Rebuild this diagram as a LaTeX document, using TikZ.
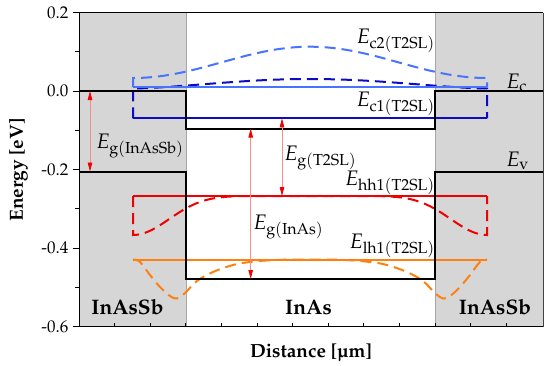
\documentclass[tikz,border=0pt]{standalone}
\usepackage[T1]{fontenc}
\usepackage{mathpazo}
\usetikzlibrary{arrows.meta}
\definecolor{lblue}{RGB}{72,115,255}
\definecolor{dblue}{RGB}{12,12,200}
\definecolor{myred}{RGB}{240,0,0}
\definecolor{myorange}{RGB}{255,128,16}
\definecolor{barcol}{RGB}{214,214,214}
\begin{document}
\begin{tikzpicture}[x=1pt,y=-1pt,
  band/.style={line width=2pt, black},
  lvl/.style={line width=2pt},
  wf/.style={line width=2pt, dash pattern=on 11pt off 6pt},
  gap/.style={line width=0.8pt, draw=myred!45,
     {Triangle[length=9pt,width=4.5pt,color=myred]}-{Triangle[length=9pt,width=4.5pt,color=myred]}},
  lab/.style={font=\fontsize{21}{24}\selectfont, inner sep=0pt},
  reg/.style={font=\fontsize{21}{24}\selectfont\bfseries, inner sep=0pt},
  ttl/.style={font=\fontsize{19}{22}\selectfont\bfseries, inner sep=0pt},
  ticklab/.style={font=\fontsize{17}{20}\selectfont, inner sep=0pt, anchor=east},
]
\useasboundingbox (0,0) rectangle (550,365);
% barrier regions
\fill[barcol] (79,12.5) rectangle (186,326.5);
\fill[barcol] (435,12.5) rectangle (543,326.5);
\draw[gray!70, line width=0.5pt] (186,12.5) -- (186,326.5);
\draw[gray!70, line width=0.5pt] (435,12.5) -- (435,326.5);
% wave functions
\draw[wf,draw=lblue] (133,87) -- (133,78) -- plot[domain=133:487,samples=90] (\x,{78-31.3*pow(abs(cos(90*(\x-310)/177)),2)}) -- (487,87);
\draw[wf,draw=dblue] (133,118.3) -- (133,88.5) -- plot[domain=133:487,samples=90] (\x,{88.5-9.5*pow(abs(cos(90*(\x-310)/177)),1.5)}) -- (487,118.3);
\draw[wf,draw=myred] (133,196) -- (133,235) -- plot[domain=133:487,samples=120] (\x,{196+39*pow(abs(sin(90*(\x-310)/177)),10)}) -- (487,196);
\draw[wf,draw=myorange] plot[smooth,tension=0.6] coordinates {(133,259.5)(140,262)(150,275)(160,287)(170,296)(177,298.5)(185,293)(197,281)(213,272)(233,265)(250,262)(275,260)(310,259.5)(345,260)(370,262)(387,265)(407,272)(423,281)(435,293)(443,298.5)(450,296)(460,287)(470,275)(480,262)(487,259.5)};
% levels
\draw[lvl,draw=lblue] (133,87) -- (487,87);
\draw[lvl,draw=dblue] (133,118.3) -- (487,118.3);
\draw[lvl,draw=myred] (133,196) -- (487,196);
\draw[lvl,draw=myorange] (133,259.5) -- (487,259.5);
% band edges
\draw[band] (79,91) -- (186,91) -- (186,128.5) -- (435,128.5) -- (435,91) -- (543,91);
\draw[band] (79,171.5) -- (186,171.5) -- (186,279) -- (435,279) -- (435,171.5) -- (543,171.5);
% gap arrows
\coordinate (a1t) at (90,91);   \coordinate (a1b) at (90,171.5);
\coordinate (a2t) at (282,118.3); \coordinate (a2b) at (282,196);
\coordinate (a3t) at (250.7,128.5); \coordinate (a3b) at (250.7,279);
\draw[gap] (a1t) -- (a1b);
\draw[gap] (a2t) -- (a2b);
\draw[gap] (a3t) -- (a3b);
% frame
\draw[line width=1pt] (79,326.5) -- (79,12.5) -- (543,12.5);
\draw[line width=1pt] (79,326.5) -- (543,326.5);
\draw[line width=1pt, black!75] (543,12.5) -- (543,326.5);
% y ticks
\foreach \v/\yy in {0.2/12.5,0.0/91,-0.2/169.5,-0.4/248,-0.6/326.5}{
  \draw[line width=0.8pt] (72.5,\yy) -- (79,\yy);
  \node[ticklab] (yl\yy) at (68.5,\yy) {\v};
}
\foreach \yy in {51.75,130.25,208.75,287.25}{
  \draw[line width=0.8pt] (75,\yy) -- (79,\yy);
}
% x ticks
\foreach \k in {1,...,12}{
  \draw[line width=0.8pt] ({79+35.6*\k},326.5) -- ({79+35.6*\k},322.5);
}
% labels
\node[lab,anchor=base east] (lc2) at (435,43.3) {$E_{\mathrm{c2(T2SL)}}$};
\node[lab,anchor=base west] (lec) at (506,88) {$E_{\mathrm{c}}$};
\node[lab,anchor=base east] (lc1) at (435,106.7) {$E_{\mathrm{c1(T2SL)}}$};
\node[lab,anchor=base west] (lev) at (506,166) {$E_{\mathrm{v}}$};
\node[lab,anchor=base west] (lgt) at (284,160) {$E_{\mathrm{g(T2SL)}}$};
\node[lab,anchor=base east] (lhh) at (435,185) {$E_{\mathrm{hh1(T2SL)}}$};
\node[lab,anchor=base east] (llh) at (435,248.3) {$E_{\mathrm{lh1(T2SL)}}$};
\node[lab,anchor=base west] (lgi) at (253,229) {$E_{\mathrm{g(InAs)}}$};
\node[lab,anchor=base west] (lgs) at (96,148.3) {$E_{\mathrm{g(InAsSb)}}$};
\node[reg,anchor=base] (r1) at (127.5,314) {InAsSb};
\node[reg,anchor=base] (r2) at (308.5,314) {InAs};
\node[reg,anchor=base] (r3) at (495,314) {InAsSb};
\node[ttl,anchor=base] (xt) at (311,357) {Distance [\textmu m]};
\node[ttl,anchor=base,rotate=90] (yt) at (23,170) {Energy [eV]};
\end{tikzpicture}
\end{document}
